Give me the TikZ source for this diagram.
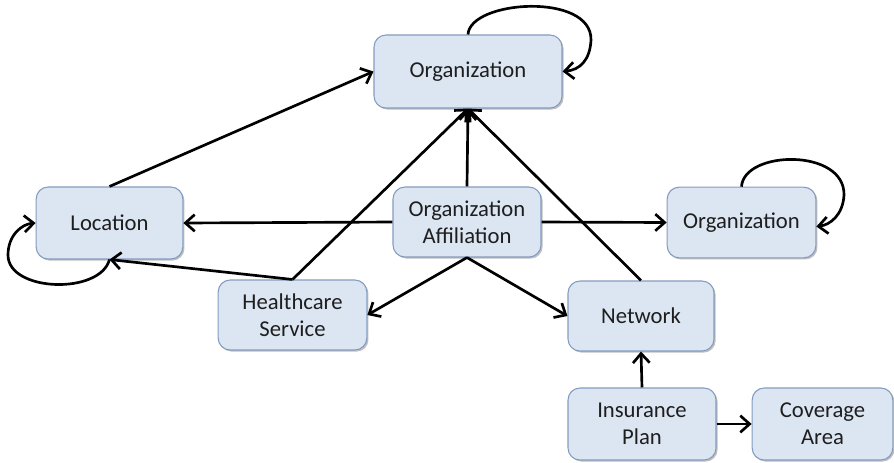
\documentclass[tikz,border=0pt]{standalone}
\usepackage{fontspec}
\setmainfont{Carlito}
\usetikzlibrary{arrows.meta,shadows}
\definecolor{boxfill}{RGB}{220,230,242}
\definecolor{boxline}{RGB}{132,155,192}
\definecolor{txt}{RGB}{30,30,30}
\tikzset{
  ent/.style={draw=boxline, fill=boxfill, line width=0.8pt, rounded corners=9pt,
    align=center, inner sep=0pt, font=\fontsize{17}{20}\selectfont, text=txt,
    drop shadow={shadow xshift=1.2pt, shadow yshift=-1.2pt, opacity=0.25, fill=black}},
  rel/.style={line width=2pt, -{Straight Barb[length=7pt,width=12.5pt]}},
}
\begin{document}
\begin{tikzpicture}[x=0.75pt,y=-0.75pt]
\useasboundingbox (0,0) rectangle (894,462);
\node[ent, minimum width=141pt, minimum height=54.75pt] (org1) at (468,71.5) {Organization};
\node[ent, minimum width=110pt, minimum height=54pt] (loc) at (109.5,223) {Location};
\node[ent, minimum width=111pt, minimum height=52.5pt] (aff) at (467,222) {Organization\\Affiliation};
\node[ent, minimum width=111.5pt, minimum height=53pt] (org2) at (741.5,222.5) {Organization};
\node[ent, minimum width=111.5pt, minimum height=52.5pt] (hcs) at (292.5,315) {Healthcare\\Service};
\node[ent, minimum width=109.5pt, minimum height=52.5pt] (net) at (641,316) {Network};
\node[ent, minimum width=111pt, minimum height=54pt] (ins) at (642,424) {Insurance\\Plan};
\node[ent, minimum width=105.5pt, minimum height=54pt] (cov) at (822.5,424) {Coverage\\Area};

\draw[rel] (loc.north) -- (org1.west);
\draw[rel] (hcs.north) -- (org1.south);
\draw[rel] (aff.north) -- (org1.south);
\draw[rel] (net.north) -- (org1.south);
\draw[rel] (aff.west) -- (loc.east);
\draw[rel] (aff.east) -- (org2.west);
\draw[rel] (hcs.north) -- (loc.south);
\draw[rel] (aff.south) -- (hcs.east);
\draw[rel] (aff.south) -- (net.west);
\draw[rel] (ins.north) -- (net.south);
\draw[rel] (ins.east) -- (cov.west);

\draw[rel] (org1.north) .. controls (470,0) and (592,-8) .. (591,40)
  .. controls (590,60) and (580,70) .. (org1.east);
\draw[rel] (org2.north) .. controls (744,150) and (845,148) .. (844,195)
  .. controls (843,215) and (830,225) .. ([yshift=-3pt]org2.east);
\draw[rel] (loc.south) .. controls (100,295) and (8,292) .. (8,255)
  .. controls (8,235) and (22,224) .. (loc.west);
\end{tikzpicture}
\end{document}
